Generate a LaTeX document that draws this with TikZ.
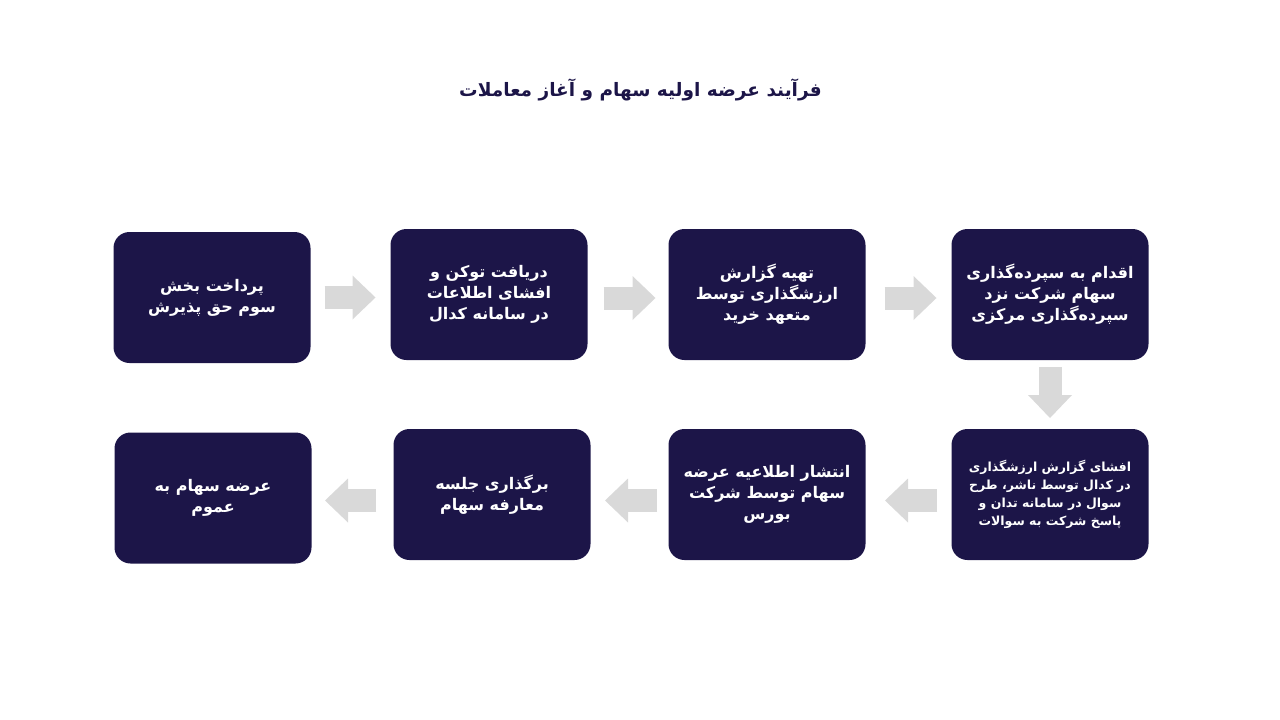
\documentclass[tikz,border=0pt]{standalone}
\usepackage{fontspec}
\newfontfamily\arabicfont[Script=Arabic]{DejaVu Sans}
\TeXXeTstate=1
\usepackage{tikz}
\usetikzlibrary{positioning}
\usetikzlibrary{arrows.meta}
\definecolor{navy}{HTML}{1C1548}
\definecolor{flowgray}{HTML}{D9D9D9}
\newcommand{\rl}[1]{\beginR#1\endR}
\tikzstyle{stepbox} = [rectangle, rounded corners=16pt, fill=navy, text=white, minimum width=197pt, minimum height=131pt, outer sep=0pt, align=center, font=\arabicfont\bfseries\fontsize{16}{21}\selectfont]
\tikzstyle{smalltext} = [font=\arabicfont\bfseries\fontsize{12.5}{18}\selectfont]
\tikzstyle{flow} = [draw=flowgray, line width=23pt, -{Triangle[length=23pt,width=44pt,line width=0pt]}, shorten <=14pt, shorten >=15pt]

\begin{document}
\begin{tikzpicture}[x=1pt,y=-1pt]
    \useasboundingbox (0,0) rectangle (1280,720);
    \node (title) at (640.5,90) [text=navy, font=\arabicfont\bfseries\fontsize{18.5}{24}\selectfont] {\rl{فرآیند عرضه اولیه سهام و آغاز معاملات}};
    % top row
    \node (s1) [stepbox] at (212,297.5) {\rl{پرداخت بخش}\\\rl{سوم حق پذیرش}};
    \node (s2) [stepbox, right=80pt of s1, yshift=3pt] {\rl{دریافت توکن و}\\\rl{افشای اطلاعات}\\\rl{در سامانه کدال}};
    \node (s3) [stepbox, right=81pt of s2] {\rl{تهیه گزارش}\\\rl{ارزشگذاری توسط}\\\rl{متعهد خرید}};
    \node (s4) [stepbox, right=86pt of s3] {\rl{اقدام به سپرده^^^^200cگذاری}\\\rl{سهام شرکت نزد}\\\rl{سپرده^^^^200cگذاری مرکزی}};
    % bottom row
    \node (s5) [stepbox, smalltext, below=69pt of s4] {\rl{افشای گزارش ارزشگذاری}\\\rl{در کدال توسط ناشر، طرح}\\\rl{سوال در سامانه تدان و}\\\rl{پاسخ شرکت به سوالات}};
    \node (s6) [stepbox, left=86pt of s5] {\rl{انتشار اطلاعیه عرضه}\\\rl{سهام توسط شرکت}\\\rl{بورس}};
    \node (s7) [stepbox, left=78pt of s6] {\rl{برگذاری جلسه}\\\rl{معارفه سهام}};
    \node (s8) [stepbox, left=82pt of s7, yshift=-3.5pt] {\rl{عرضه سهام به}\\\rl{عموم}};
    % arrows
    \draw [flow] (s1.east) -- (s1.east -| s2.west);
    \draw [flow, shorten <=16pt, shorten >=13pt] ([yshift=-3.5pt]s2.east) -- ([yshift=-3.5pt]s2.east -| s3.west);
    \draw [flow, shorten <=19pt, shorten >=15pt] ([yshift=-3.5pt]s3.east) -- ([yshift=-3.5pt]s3.east -| s4.west);
    \draw [flow, shorten <=7pt, shorten >=11pt] (s4.south) -- (s5.north);
    \draw [flow, shorten <=14.5pt, shorten >=19.5pt] ([yshift=-6pt]s5.west) -- ([yshift=-6pt]s5.west -| s6.east);
    \draw [flow, shorten <=11.5pt, shorten >=14.5pt] ([yshift=-6pt]s6.west) -- ([yshift=-6pt]s6.west -| s7.east);
    \draw [flow, shorten <=17.5pt, shorten >=13.5pt] ([yshift=-6pt]s7.west) -- ([yshift=-6pt]s7.west -| s8.east);
\end{tikzpicture}
\end{document}
